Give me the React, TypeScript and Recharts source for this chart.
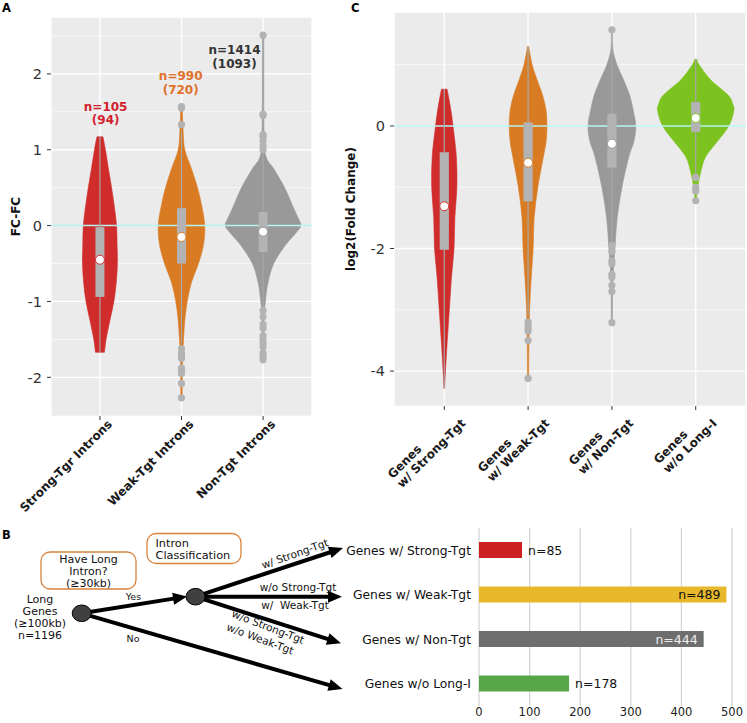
import React from "react";
import {
  ComposedChart,
  Scatter,
  XAxis,
  YAxis,
  CartesianGrid,
  Label,
  BarChart,
  Bar,
  Cell,
  LabelList,
} from "recharts";

const FONT = "'DejaVu Sans', Verdana, sans-serif";

// ---------- Panel A: FC-FC by intron class ----------
const intronGroups = ["Strong-Tgr Introns", "Weak-Tgt Introns", "Non-Tgt Introns"];
const intronColors = ["#D02C2C", "#D97B22", "#999999"];
const intronCountTop = ["n=105", "n=990", "n=1414"];
const intronCountSub = ["(94)", "(720)", "(1093)"];
const intronCountColors = ["#D2222D", "#E0702A", "#333333"];
const intronCountX = [1.07, 1.99, 2.65];
const intronCountY = [1.49, 1.89, 2.23];

// violin outline: [value, half width in category units]
const strongIntronViolin = [
  [-1.67, 0.055], [-1.5, 0.075], [-1.25, 0.122], [-1, 0.171], [-0.75, 0.2], [-0.5, 0.214],
  [-0.25, 0.21], [0, 0.204], [0.25, 0.177], [0.5, 0.143], [0.75, 0.104], [1, 0.067], [1.17, 0.037],
];
const weakIntronViolin = [
  [-2.27, 0.008], [-2, 0.01], [-1.75, 0.012], [-1.5, 0.025], [-1.25, 0.04], [-1, 0.07],
  [-0.75, 0.122], [-0.5, 0.208], [-0.25, 0.27], [0, 0.285], [0.25, 0.25], [0.5, 0.196],
  [0.75, 0.122], [1, 0.04], [1.25, 0.02], [1.57, 0.008],
];
const nonIntronViolin = [
  [-1.77, 0.008], [-1.25, 0.012], [-1, 0.028], [-0.75, 0.061], [-0.5, 0.131], [-0.25, 0.28],
  [-0.1, 0.4], [0, 0.465], [0.1, 0.43], [0.25, 0.367], [0.5, 0.265], [0.75, 0.131], [0.9, 0.04],
  [1.2, 0.012], [2.51, 0.008],
];
const intronQ1 = [-0.94, -0.5, -0.35];
const intronQ3 = [-0.02, 0.23, 0.18];
const intronMean = [-0.45, -0.15, -0.08];
const intronWhiskerLo = [-1.67, -1.55, -1.08];
const intronWhiskerHi = [1.17, 1.25, 0.95];
const strongIntronOutliers: number[] = [];
const weakIntronOutliers = [1.57, 1.55, 1.33, -1.62, -1.68, -1.72, -1.75, -1.88, -1.92, -1.95, -2.08, -2.27];
const nonIntronOutliers = [
  2.51, 1.47, 1.45, 1.2, 1.17, 1.12, 1.05, 1.0, -1.12, -1.2, -1.3, -1.35, -1.45, -1.5, -1.55,
  -1.6, -1.68, -1.72, -1.77,
];

// ---------- Panel C: log2(fold change) by gene class ----------
const geneGroups = ["Genes\nw/ Strong-Tgt", "Genes\nw/ Weak-Tgt", "Genes\nw/ Non-Tgt", "Genes\nw/o Long-I"];
const geneColors = ["#D02C2C", "#D97B22", "#999999", "#7DC31F"];
const strongGeneViolin = [
  [-4.28, 0.004], [-4, 0.014], [-3.5, 0.036], [-3, 0.06], [-2.5, 0.084], [-2, 0.116],
  [-1.5, 0.126], [-1, 0.15], [-0.5, 0.144], [0, 0.104], [0.3, 0.074], [0.6, 0.034],
];
const weakGeneViolin = [
  [-4.12, 0.006], [-3.5, 0.01], [-3, 0.018], [-2.5, 0.036], [-2, 0.06], [-1.5, 0.072],
  [-1, 0.116], [-0.5, 0.183], [-0.25, 0.215], [0, 0.225], [0.25, 0.215], [0.5, 0.173],
  [0.75, 0.108], [1, 0.048], [1.3, 0.006],
];
const nonGeneViolin = [
  [-3.21, 0.006], [-2.5, 0.012], [-2, 0.036], [-1.5, 0.063], [-1, 0.12], [-0.5, 0.203],
  [-0.25, 0.263], [0, 0.285], [0.25, 0.255], [0.5, 0.212], [0.75, 0.14], [1, 0.06],
  [1.25, 0.012], [1.57, 0.005],
];
const noLongGeneViolin = [
  [-1.22, 0.006], [-1, 0.024], [-0.75, 0.06], [-0.5, 0.12], [-0.25, 0.26], [0, 0.395],
  [0.25, 0.455], [0.35, 0.443], [0.5, 0.389], [0.75, 0.18], [1, 0.04], [1.09, 0.012],
];
const geneQ1 = [-2.02, -1.23, -0.68, -0.1];
const geneQ3 = [-0.43, 0.06, 0.2, 0.39];
const geneMean = [-1.31, -0.6, -0.29, 0.13];
const geneWhiskerLo = [-4.28, -3.1, -1.95, -0.8];
const geneWhiskerHi = [0.6, 1.3, 1.3, 1.09];
const strongGeneOutliers: number[] = [];
const weakGeneOutliers = [-3.2, -3.25, -3.3, -3.35, -3.5, -4.12];
const nonGeneOutliers = [1.57, -1.95, -2.05, -2.2, -2.25, -2.42, -2.47, -2.6, -2.7, -3.21];
const noLongGeneOutliers = [-0.84, -1.0, -1.06, -1.22];

// ---------- Panel B: gene counts ----------
const barGroups = ["Genes w/ Strong-Tgt", "Genes w/ Weak-Tgt", "Genes w/ Non-Tgt", "Genes w/o Long-I"];
const barCounts = [85, 489, 444, 178];
const barColors = ["#CC1F22", "#E6B82A", "#6E6E6E", "#56A548"];

const barData = barGroups.map((name, i) => ({ name, count: barCounts[i] }));

// ---------- helpers ----------
let measureCtx: CanvasRenderingContext2D | null = null;
function textWidth(s: string, font: string) {
  if (!measureCtx) measureCtx = document.createElement("canvas").getContext("2d");
  if (!measureCtx) return s.length * 7.5;
  measureCtx.font = font;
  return measureCtx.measureText(s).width;
}

function smoothSegs(pts: { x: number; y: number }[]) {
  let d = "";
  for (let i = 0; i < pts.length - 1; i++) {
    const p0 = pts[Math.max(i - 1, 0)];
    const p1 = pts[i];
    const p2 = pts[i + 1];
    const p3 = pts[Math.min(i + 2, pts.length - 1)];
    const c1x = p1.x + (p2.x - p0.x) / 6;
    const c1y = p1.y + (p2.y - p0.y) / 6;
    const c2x = p2.x - (p3.x - p1.x) / 6;
    const c2y = p2.y - (p3.y - p1.y) / 6;
    d += ` C${c1x},${c1y} ${c2x},${c2y} ${p2.x},${p2.y}`;
  }
  return d;
}

const violinOutline = (pts: number[][], c: number) => [
  ...pts.map(([y, w]) => ({ x: c + w, y })),
  ...pts.slice().reverse().map(([y, w]) => ({ x: c - w, y })),
];

const violinPath = (color: string) => (p: any) => {
  const pts = p.points || [];
  if (pts.length < 4) return <g />;
  const n = pts.length / 2;
  const right = pts.slice(0, n);
  const left = pts.slice(n);
  const d =
    `M${right[0].x},${right[0].y}` + smoothSegs(right) + ` L${left[0].x},${left[0].y}` + smoothSegs(left) + " Z";
  return <path d={d} fill={color} stroke={color} strokeWidth={0.6} />;
};

const boxCorners = (c: number, lo: number, hi: number, half: number) => [
  { x: c - half, y: lo },
  { x: c + half, y: lo },
  { x: c + half, y: hi },
  { x: c - half, y: hi },
];

const polyPath = (fill: string) => (p: any) => {
  const pts = p.points || [];
  if (!pts.length) return <g />;
  const d = pts.map((q: any, i: number) => `${i ? "L" : "M"}${q.x},${q.y}`).join(" ") + " Z";
  return <path d={d} fill={fill} stroke="none" />;
};

const segPath = (stroke: string, width: number) => (p: any) => {
  const pts = p.points || [];
  if (pts.length < 2) return <g />;
  return <line x1={pts[0].x} y1={pts[0].y} x2={pts[1].x} y2={pts[1].y} stroke={stroke} strokeWidth={width} />;
};

const hidden = () => <g />;
const outlierDot = (p: any) => <circle cx={p.cx} cy={p.cy} r={3.6} fill="#B3B3B3" />;
const meanDot = (p: any) => (
  <circle cx={p.cx} cy={p.cy} r={4.5} fill="#fff" stroke={p.payload.color} strokeWidth={1} />
);
const countText = (p: any) => (
  <text textAnchor="middle" fontSize={12} fontWeight="bold" fill={p.payload.color}>
    <tspan x={p.cx} y={p.cy - 2}>{p.payload.top}</tspan>
    <tspan x={p.cx} y={p.cy + 11.5}>{p.payload.sub}</tspan>
  </text>
);

const gridLine = (p: any) => (
  <line key={p.key} x1={p.x1} x2={p.x2} y1={p.y1} y2={p.y2} stroke="#fff" strokeWidth={p.index % 2 === 0 ? 1.3 : 0.6} />
);
const vGridLine = (p: any) => (
  <line key={p.key} x1={p.x1} x2={p.x2} y1={p.y1} y2={p.y2} stroke="#fff" strokeWidth={1.3} />
);

const makeValueTick = (step: number) => (p: any) => {
  const v = p.payload.value;
  if (Math.abs(v / step - Math.round(v / step)) > 1e-6) return <g />;
  return (
    <g>
      <line x1={p.x - 4} x2={p.x} y1={p.y} y2={p.y} stroke="#333" strokeWidth={1} />
      <text x={p.x - 9} y={p.y} dy="0.36em" textAnchor="end" fontSize={14.5} fill="#333">
        {v}
      </text>
    </g>
  );
};

const makeCategoryTick = (labels: string[]) => (p: any) => {
  const lines = labels[Math.round(p.payload.value) - 1].split("\n");
  const w = Math.max(...lines.map((l) => textWidth(l, `bold 12px ${FONT}`)));
  return (
    <g transform={`translate(${p.x},${p.y})`}>
      <line x1={0} x2={0} y1={0} y2={4} stroke="#333" strokeWidth={1} />
      <text transform="translate(6.5,2.5) rotate(-45)" fontSize={12} fontWeight="bold" fill="#1a1a1a">
        {lines.map((l, i) => (
          <tspan key={i} x={-w} y={9 + i * 13}>
            {l}
          </tspan>
        ))}
      </text>
    </g>
  );
};

type PanelProps = {
  groups: string[];
  colors: string[];
  violins: number[][][];
  q1: number[];
  q3: number[];
  means: number[];
  lo: number[];
  hi: number[];
  outliers: number[][];
  domain: [number, number];
  ticks: number[];
  labelStep: number;
  width: number;
  height: number;
  margin: { top: number; right: number; bottom: number; left: number };
  yAxisWidth: number;
  xAxisHeight: number;
  title: string;
  titleOffset: number;
  counts?: { x: number; y: number; top: string; sub: string; color: string }[];
};

function ViolinPanel(props: PanelProps) {
  const { groups, colors, violins, q1, q3, means, lo, hi, outliers, domain, ticks } = props;
  const n = groups.length;
  const cats = groups.map((_, i) => i + 1);
  const outlierPts = outliers.flatMap((ys, i) => ys.map((y) => ({ x: i + 1, y })));
  const meanPts = means.map((y, i) => ({ x: i + 1, y, color: colors[i] }));
  const zero = [
    { x: 0.4, y: 0 },
    { x: n + 0.6, y: 0 },
  ];
  return (
    <ComposedChart width={props.width} height={props.height} margin={props.margin}>
      <CartesianGrid fill="#EBEBEB" stroke="#fff" horizontal={gridLine} vertical={vGridLine} />
      <XAxis
        type="number"
        dataKey="x"
        domain={[0.4, n + 0.6]}
        ticks={cats}
        interval={0}
        allowDataOverflow
        axisLine={false}
        tickLine={false}
        tickSize={0}
        tickMargin={0}
        height={props.xAxisHeight}
        tick={makeCategoryTick(groups)}
      />
      <YAxis
        type="number"
        dataKey="y"
        domain={domain}
        ticks={ticks}
        interval={0}
        allowDataOverflow
        axisLine={false}
        tickLine={false}
        tickSize={0}
        tickMargin={0}
        width={props.yAxisWidth}
        tick={makeValueTick(props.labelStep)}
      >
        <Label
          value={props.title}
          angle={-90}
          position="insideLeft"
          offset={props.titleOffset}
          style={{ textAnchor: "middle", fontWeight: "bold", fontSize: 12, fill: "#111" }}
        />
      </YAxis>
      {violins.map((v, i) => (
        <Scatter
          key={`violin-${i}`}
          data={violinOutline(v, i + 1)}
          shape={hidden}
          line={violinPath(colors[i])}
          isAnimationActive={false}
        />
      ))}
      <Scatter data={zero} shape={hidden} line={segPath("#B4F4F4", 1.5)} isAnimationActive={false} />
      {cats.map((c, i) => (
        <Scatter
          key={`whisker-${i}`}
          data={[
            { x: c, y: lo[i] },
            { x: c, y: hi[i] },
          ]}
          shape={hidden}
          line={segPath("#A8A8A8", 1.2)}
          isAnimationActive={false}
        />
      ))}
      {cats.map((c, i) => (
        <Scatter
          key={`box-${i}`}
          data={boxCorners(c, q1[i], q3[i], 0.055)}
          shape={hidden}
          line={polyPath("#B3B3B3")}
          isAnimationActive={false}
        />
      ))}
      <Scatter data={outlierPts} shape={outlierDot} isAnimationActive={false} />
      <Scatter data={meanPts} shape={meanDot} isAnimationActive={false} />
      {props.counts && <Scatter data={props.counts} shape={countText} isAnimationActive={false} />}
    </ComposedChart>
  );
}

function Arrow({ x1, y1, x2, y2 }: { x1: number; y1: number; x2: number; y2: number }) {
  const a = Math.atan2(y2 - y1, x2 - x1);
  const len = 14;
  const half = 6;
  const bx = x2 - len * Math.cos(a);
  const by = y2 - len * Math.sin(a);
  const nx = -Math.sin(a) * half;
  const ny = Math.cos(a) * half;
  return (
    <g>
      <line x1={x1} y1={y1} x2={bx + 2 * Math.cos(a)} y2={by + 2 * Math.sin(a)} stroke="#000" strokeWidth={4} />
      <polygon points={`${x2},${y2} ${bx + nx},${by + ny} ${bx - nx},${by - ny}`} fill="#000" />
    </g>
  );
}

function FlowDiagram() {
  const box = "#D9823B";
  return (
    <svg width={747} height={723} style={{ position: "absolute", left: 0, top: 0 }} fontFamily={FONT}>
      <text x={2} y={12} fontSize={11.5} fontWeight="bold" fill="#000">A</text>
      <text x={351} y={12} fontSize={11.5} fontWeight="bold" fill="#000">C</text>
      <text x={2} y={538.5} fontSize={11.5} fontWeight="bold" fill="#000">B</text>

      <rect x={41} y={552} width={95} height={37} rx={9} fill="#fff" stroke={box} strokeWidth={1.3} />
      <text textAnchor="middle" fontSize={11} fill="#111">
        <tspan x={88.5} y={563.3}>Have Long</tspan>
        <tspan x={88.5} y={575}>Intron?</tspan>
        <tspan x={88.5} y={586.5}>(≥30kb)</tspan>
      </text>
      <rect x={147} y={533.5} width={94} height={30} rx={9} fill="#fff" stroke={box} strokeWidth={1.3} />
      <text fontSize={11.3} fill="#111">
        <tspan x={155.5} y={546.8}>Intron</tspan>
        <tspan x={155.5} y={558.8}>Classification</tspan>
      </text>

      <text textAnchor="middle" fontSize={11} fill="#111">
        <tspan x={40} y={602.8}>Long</tspan>
        <tspan x={40} y={615}>Genes</tspan>
        <tspan x={40} y={627}>(≥100kb)</tspan>
        <tspan x={40} y={639}>n=1196</tspan>
      </text>

      <Arrow x1={81.7} y1={613.3} x2={187} y2={596.5} />
      <Arrow x1={81.7} y1={613.3} x2={342.5} y2={689} />
      <Arrow x1={195.5} y1={596.7} x2={343} y2={548} />
      <Arrow x1={195.5} y1={596.7} x2={342} y2={596.7} />
      <Arrow x1={195.5} y1={596.7} x2={341} y2={643.3} />

      <ellipse cx={81.7} cy={613.3} rx={9.5} ry={8.3} fill="#404040" stroke="#000" strokeWidth={1} />
      <ellipse cx={195.5} cy={596.7} rx={9.5} ry={8.3} fill="#404040" stroke="#000" strokeWidth={1} />

      <text x={133.5} y={599.5} textAnchor="middle" fontSize={9.5} fill="#111">Yes</text>
      <text x={133} y={641.5} textAnchor="middle" fontSize={9.5} fill="#111">No</text>
      <text x={295} y={557.5} textAnchor="middle" fontSize={10.5} fill="#111" transform="rotate(-19.6 295 554)">
        w/ Strong-Tgt
      </text>
      <text x={298} y={590.8} textAnchor="middle" fontSize={10.5} fill="#111">w/o Strong-Tgt</text>
      <text x={295} y={608.8} textAnchor="middle" fontSize={10.5} fill="#111" style={{ whiteSpace: "pre" }}>
        {"w/  Weak-Tgt"}
      </text>
      <text x={268} y={630.5} textAnchor="middle" fontSize={10.5} fill="#111" transform="rotate(21 268 627)">
        w/o Strong-Tgt
      </text>
      <text x={260} y={642.5} textAnchor="middle" fontSize={10.5} fill="#111" transform="rotate(20.5 260 639)">
        w/o Weak-Tgt
      </text>
    </svg>
  );
}

const barLabel = (p: any) => {
  const inside = p.index === 1 || p.index === 2;
  const x = inside ? p.x + p.width - 6 : p.x + p.width + 6;
  return (
    <text
      x={x}
      y={p.y + p.height / 2}
      dy="0.36em"
      textAnchor={inside ? "end" : "start"}
      fontSize={12.5}
      fill={p.index === 2 ? "#EEEEEE" : "#111"}
    >
      {`n=${p.value}`}
    </text>
  );
};

export default function App() {
  const intronCounts = intronCountTop.map((top, i) => ({
    x: intronCountX[i],
    y: intronCountY[i],
    top,
    sub: intronCountSub[i],
    color: intronCountColors[i],
  }));
  return (
    <div
      style={{
        position: "absolute",
        left: 0,
        top: 0,
        width: 747,
        height: 723,
        background: "#fff",
        fontFamily: FONT,
        overflow: "hidden",
      }}
    >
      <FlowDiagram />
      <div style={{ position: "absolute", left: 0, top: 0 }}>
        <ViolinPanel
          groups={intronGroups}
          colors={intronColors}
          violins={[strongIntronViolin, weakIntronViolin, nonIntronViolin]}
          q1={intronQ1}
          q3={intronQ3}
          means={intronMean}
          lo={intronWhiskerLo}
          hi={intronWhiskerHi}
          outliers={[strongIntronOutliers, weakIntronOutliers, nonIntronOutliers]}
          domain={[-2.51, 2.75]}
          ticks={[-2, -1.5, -1, -0.5, 0, 0.5, 1, 1.5, 2, 2.5]}
          labelStep={1}
          width={320}
          height={520}
          margin={{ top: 17, right: 8, bottom: 0, left: 0 }}
          yAxisWidth={51}
          xAxisHeight={104}
          title="FC-FC"
          titleOffset={16}
          counts={intronCounts}
        />
      </div>
      <div style={{ position: "absolute", left: 340, top: 0 }}>
        <ViolinPanel
          groups={geneGroups}
          colors={geneColors}
          violins={[strongGeneViolin, weakGeneViolin, nonGeneViolin, noLongGeneViolin]}
          q1={geneQ1}
          q3={geneQ3}
          means={geneMean}
          lo={geneWhiskerLo}
          hi={geneWhiskerHi}
          outliers={[strongGeneOutliers, weakGeneOutliers, nonGeneOutliers, noLongGeneOutliers]}
          domain={[-4.57, 1.86]}
          ticks={[-4, -3, -2, -1, 0, 1]}
          labelStep={2}
          width={407}
          height={520}
          margin={{ top: 12, right: 1, bottom: 0, left: 0 }}
          yAxisWidth={54}
          xAxisHeight={114}
          title="log2(Fold Change)"
          titleOffset={11}
        />
      </div>
      <div style={{ position: "absolute", left: 340, top: 519 }}>
        <BarChart
          layout="vertical"
          width={407}
          height={204}
          data={barData}
          margin={{ top: 9, right: 15, bottom: 0, left: 0 }}
          barSize={16}
        >
          <CartesianGrid horizontal={false} stroke="#D3D3D3" strokeWidth={1.2} />
          <XAxis
            type="number"
            domain={[0, 500]}
            ticks={[0, 100, 200, 300, 400, 500]}
            interval={0}
            axisLine={false}
            tickLine={false}
            tickSize={0}
            tickMargin={2}
            height={17}
            tick={{ fontSize: 11.5, fill: "#222" }}
          />
          <YAxis
            type="category"
            dataKey="name"
            width={139}
            axisLine={false}
            tickLine={false}
            tickSize={0}
            tickMargin={8}
            tick={{ fontSize: 12.3, fill: "#111" }}
          />
          <Bar dataKey="count" isAnimationActive={false}>
            {barColors.map((c, i) => (
              <Cell key={i} fill={c} />
            ))}
            <LabelList dataKey="count" content={barLabel} />
          </Bar>
        </BarChart>
      </div>
    </div>
  );
}
